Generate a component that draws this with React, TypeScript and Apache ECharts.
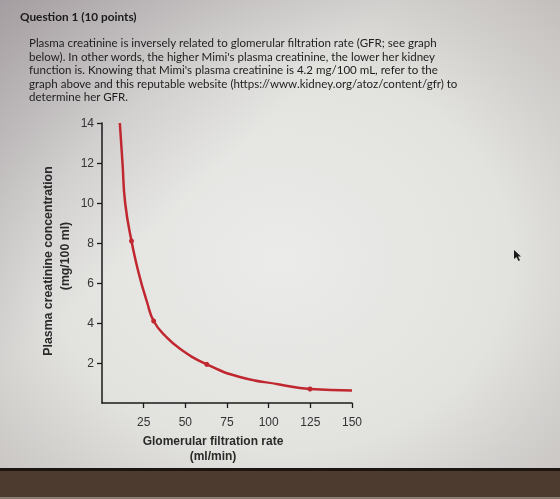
import React, { useEffect, useRef } from "react";
import * as echarts from "echarts";

const gfr = [10.7, 12.3, 13.9, 17.7, 22, 27, 31, 38, 47, 62.9, 82.7, 106.5, 124.8, 150];
const creatinine = [14, 12, 10, 8.1, 6.5, 5.05, 4.1, 3.35, 2.7, 1.93, 1.3, 0.93, 0.7, 0.63];
const markedIdx = [3, 6, 9, 12];
const xTicks = [25, 50, 75, 100, 125, 150];
const yTicks = [2, 4, 6, 8, 10, 12, 14];

const questionTitle = "Question 1 (10 points)";
const questionLines = [
  "Plasma creatinine is inversely related to glomerular filtration rate (GFR; see graph",
  "below). In other words, the higher Mimi's plasma creatinine, the lower her kidney",
  "function is. Knowing that Mimi's plasma creatinine is 4.2 mg/100 mL, refer to the",
  "graph above and this reputable website (https://www.kidney.org/atoz/content/gfr) to",
  "determine her GFR.",
];
const xTitle = ["Glomerular filtration rate", "(ml/min)"];
const yTitle = ["Plasma creatinine concentration", "(mg/100 ml)"];

const RED = "#c0272f";

export default function App() {
  const ref = useRef<HTMLDivElement>(null);
  useEffect(() => {
    if (!ref.current) return;
    const chart = echarts.init(ref.current, null, { renderer: "svg" });
    const data = gfr.map((x, i) =>
      markedIdx.includes(i)
        ? { value: [x, creatinine[i]], symbol: "circle", symbolSize: 5 }
        : { value: [x, creatinine[i]], symbol: "none" }
    );
    const graphics: any[] = [
      {
        type: "rect",
        z: -10,
        silent: true,
        shape: { x: 0, y: 0, width: 560, height: 470 },
        style: {
          fill: {
            type: "radial",
            x: 0.5,
            y: 0.55,
            r: 0.75,
            colorStops: [
              { offset: 0, color: "#ebebe9" },
              { offset: 0.55, color: "#e2e2df" },
              { offset: 1, color: "#c2bebc" },
            ],
          },
        },
      },
      {
        type: "rect",
        z: -9,
        silent: true,
        shape: { x: 0, y: 0, width: 560, height: 470 },
        style: {
          fill: {
            type: "linear",
            x: 0,
            y: 0,
            x2: 0.4,
            y2: 0.35,
            colorStops: [
              { offset: 0, color: "rgba(120,108,120,0.4)" },
              { offset: 1, color: "rgba(120,108,120,0)" },
            ],
          },
        },
      },
      {
        type: "rect",
        silent: true,
        shape: { x: 0, y: 469, width: 560, height: 30 },
        style: { fill: "#4d3b2f" },
      },
      {
        type: "rect",
        silent: true,
        shape: { x: 0, y: 468, width: 560, height: 3 },
        style: { fill: "#1c1511" },
      },
      {
        type: "rect",
        silent: true,
        shape: { x: 0, y: 497, width: 560, height: 2 },
        style: { fill: "#8c7d72" },
      },
      {
        type: "text",
        x: 20,
        y: 16,
        style: {
          text: questionTitle,
          fontFamily: "Lato",
          fontWeight: "bold",
          fontSize: 11.8,
          fill: "#1a1a1a",
          verticalAlign: "middle",
        },
      },
      ...questionLines.map((t, i) => ({
        type: "text",
        x: 29,
        y: 42.5 + i * 13.6,
        style: {
          text: t,
          fontFamily: "Lato",
          fontSize: 11.55,
          fill: "#1e1e1e",
          verticalAlign: "middle",
        },
      })),
      ...xTitle.map((t, i) => ({
        type: "text",
        x: 213,
        y: 441 + i * 15,
        style: {
          text: t,
          fontFamily: "Liberation Sans",
          fontWeight: "bold",
          fontSize: 12,
          fill: "#2a2a2a",
          align: "center",
          verticalAlign: "middle",
        },
      })),
      ...yTitle.map((t, i) => ({
        type: "text",
        x: 48 + i * 16.5,
        y: 261 - i * 5,
        rotation: Math.PI / 2,
        style: {
          text: t,
          fontFamily: "Liberation Sans",
          fontWeight: "bold",
          fontSize: 12.3,
          fill: "#2a2a2a",
          align: "center",
          verticalAlign: "middle",
        },
      })),
      {
        type: "polygon",
        silent: true,
        shape: {
          points: [
            [514, 250],
            [514, 259],
            [516.5, 257],
            [518.5, 261],
            [520, 260.3],
            [518, 256.5],
            [521, 256.5],
          ],
        },
        style: { fill: "#1a1a1a" },
      },
    ];
    chart.setOption({
      animation: false,
      grid: { left: 102, top: 123, width: 250, height: 280, containLabel: false },
      xAxis: {
        type: "value",
        min: 0,
        max: 150,
        interval: 25,
        splitLine: { show: false },
        axisLine: { show: true, lineStyle: { color: "#1a1a1a", width: 1.5 } },
        axisTick: {
          show: true,
          length: 5,
          customValues: xTicks,
          lineStyle: { color: "#1a1a1a", width: 1.3 },
        },
        axisLabel: {
          customValues: xTicks,
          margin: 13,
          fontFamily: "Liberation Sans",
          fontSize: 12,
          color: "#333333",
        },
      },
      yAxis: {
        type: "value",
        min: 0,
        max: 14,
        interval: 2,
        splitLine: { show: false },
        axisLine: { show: true, lineStyle: { color: "#1a1a1a", width: 1.5 } },
        axisTick: {
          show: true,
          length: 5,
          customValues: yTicks,
          lineStyle: { color: "#1a1a1a", width: 1.3 },
        },
        axisLabel: {
          customValues: yTicks,
          margin: 8,
          fontFamily: "Liberation Sans",
          fontSize: 12,
          color: "#333333",
        },
      },
      series: [
        {
          type: "line",
          data,
          smooth: 0.5,
          showSymbol: true,
          lineStyle: { color: RED, width: 2.5 },
          itemStyle: { color: RED },
        },
      ],
      graphic: graphics,
    });
    return () => chart.dispose();
  }, []);
  return (
    <div
      ref={ref}
      style={{ position: "fixed", left: 0, top: 0, width: 560, height: 499 }}
    />
  );
}
